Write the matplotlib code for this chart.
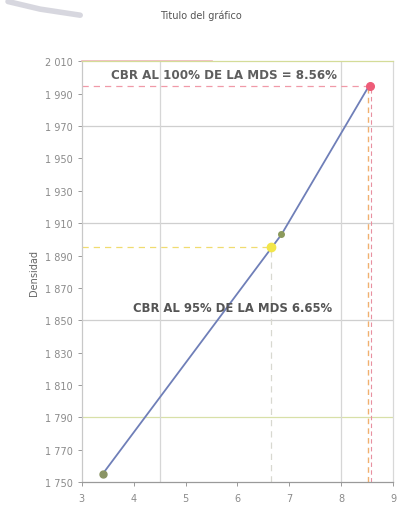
import matplotlib.pyplot as plt
from matplotlib.ticker import FixedLocator, FuncFormatter

# data
cbr = [3.4, 6.85, 8.56]
densidad = [1755, 1903, 1996]
cbr_95, dens_95 = 6.65, 1895
cbr_100, dens_100 = 8.56, 1995
y_ticks = [1750, 1770, 1790, 1810, 1830, 1850, 1870, 1890, 1910, 1930, 1950, 1970, 1990, 2010]
x_ticks = [3, 4, 5, 6, 7, 8, 9]
h_grid = [1790, 1850, 1910, 1970]
v_grid = [4.5, 8]
label_100 = 'CBR AL 100% DE LA MDS = 8.56%'
label_95 = 'CBR AL 95% DE LA MDS 6.65%'

fig = plt.figure(figsize=(4.01, 5.06), dpi=100)
ax = fig.add_axes([0.204, 0.045, 0.776, 0.832])

for g in h_grid:
    ax.axhline(g, color='#d8e0a8' if g == 1790 else '#cfcfcf', lw=0.9, zorder=1)
for g in v_grid:
    ax.axvline(g, color='#d6d6d6', lw=0.9, zorder=1)

# guide lines for the 95% and 100% points
ax.plot([3, cbr_95], [dens_95, dens_95], ls=(0, (5, 4)), color='#f0dc70', lw=0.9, zorder=2)
ax.plot([cbr_95, cbr_95], [1750, dens_95], ls=(0, (5, 4)), color='#d8d8d0', lw=0.9, zorder=2)
ax.plot([3, cbr_100], [dens_100, dens_100], ls=(0, (5, 4)), color='#f09aa8', lw=0.9, zorder=2)
ax.plot([cbr_100 - 0.04, cbr_100 - 0.04], [1750, dens_100], ls=(0, (4, 3)), color='#f0b070', lw=1.0, zorder=2)
ax.plot([cbr_100 + 0.02, cbr_100 + 0.02], [1750, dens_100], ls=(0, (4, 3)), color='#e890a0', lw=0.8, zorder=2)

ax.plot(cbr, densidad, color='#6f7fb8', lw=1.3, zorder=3)
ax.plot(cbr[0], densidad[0], 'o', color='#8a9464', ms=5, zorder=4)
ax.plot(cbr[1], densidad[1], 'o', color='#8c9a5c', ms=4, zorder=4)
ax.plot(cbr_95, dens_95, 'o', color='#f2e64a', ms=6, zorder=4)
ax.plot(cbr_100, dens_100, 'o', color='#ee5c78', ms=5.5, zorder=4)

ax.text(5.75, 2002, label_100, ha='center', va='center', fontsize=8.6,
        fontweight='bold', color='#5e5e5e', zorder=5)
ax.text(5.90, 1858, label_95, ha='center', va='center', fontsize=8.4,
        fontweight='bold', color='#555555', zorder=5)

ax.set_xlim(3, 9)
ax.set_ylim(1750, 2010)
ax.xaxis.set_major_locator(FixedLocator(x_ticks))
ax.yaxis.set_major_locator(FixedLocator(y_ticks))
ax.yaxis.set_major_formatter(FuncFormatter(lambda v, p: f'{int(v) // 1000} {int(v) % 1000:03d}'))
ax.tick_params(axis='both', labelsize=7, colors='#8a8a8a', length=3, width=0.6)
ax.tick_params(axis='x', pad=5)

ax.spines['top'].set_color('#d4dc98')
ax.axhline(2010, xmin=0, xmax=0.42, color='#f2b4bc', lw=1.2, zorder=2, clip_on=False)
ax.spines['right'].set_color('#d8d8d8')
ax.spines['left'].set_color('#c8c8c8')
ax.spines['bottom'].set_color('#9a9a9a')
for s in ax.spines.values():
    s.set_linewidth(0.9)

ax.set_ylabel('Densidad', fontsize=7, color='#666666', labelpad=4)
fig.text(0.50, 0.968, 'Titulo del gráfico', ha='center', va='center', fontsize=7, color='#555555')

# scan smudge in the corner
fig.add_artist(plt.Line2D([0.02, 0.1, 0.2], [0.995, 0.98, 0.968], color='#a8a8b8', lw=4,
                          alpha=0.45, solid_capstyle='round'))

fig.savefig('out.png', dpi=100)
